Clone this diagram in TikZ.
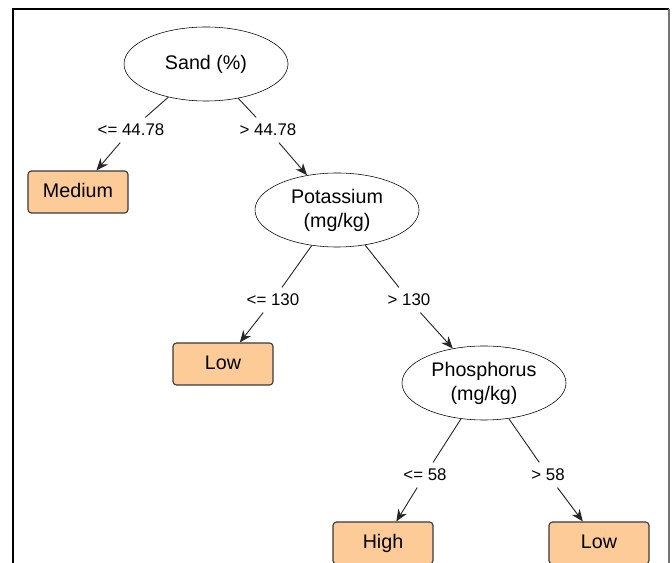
\documentclass[tikz,border=0pt]{standalone}
\usepackage{fontspec}
\setmainfont{Liberation Sans}
\usetikzlibrary{shapes.geometric,arrows.meta}

\definecolor{leaffill}{HTML}{FDCB98}
\definecolor{leafdraw}{HTML}{3A3A3A}

\begin{document}
\begin{tikzpicture}[x=0.025cm, y=-0.025cm,
    split/.style={ellipse, draw=black, thin, fill=white,
        minimum width=4.1cm, minimum height=1.85cm, inner sep=0pt,
        align=center, font=\fontsize{14}{17}\selectfont},
    leaf/.style={rectangle, rounded corners=2.5pt, draw=leafdraw, thick,
        fill=leaffill, minimum width=2.5cm, minimum height=1.05cm,
        text height=0.72em, text depth=0pt,
        font=\fontsize{14}{16}\selectfont},
    cond/.style={inner sep=4.5pt, font=\fontsize{12}{14}\selectfont},
    edge/.style={draw=black!85, line width=0.65pt},
    arrow/.style={edge, -{Stealth[length=8.5pt, width=7pt]}}
]
    \useasboundingbox (0,0) rectangle (672,563);
    % frame
    \draw[line width=0.9pt] (13,570) -- (13,9) -- (669,9);
    \draw[black!55, line width=1.5pt] (669,9) -- (669,570);

    \node[split] (sand) at (206,64) {Sand (\%)};
    \node[split] (potassium) at (337,210) {Potassium\\(mg/kg)};
    \node[split] (phosphorus) at (484,383) {Phosphorus\\(mg/kg)};

    \node[leaf] (medium) at (78,192) {Medium};
    \node[leaf] (lowA) at (223,364) {Low};
    \node[leaf] (high) at (383,543) {High};
    \node[leaf] (lowB) at (599,543) {Low};

    \node[cond] (sandL) at (131,130) {<= 44.78};
    \node[cond] (sandR) at (268,130) {> 44.78};
    \node[cond] (potL) at (273,300) {<= 130};
    \node[cond] (potR) at (409,300) {> 130};
    \node[cond] (phosL) at (425,475) {<= 58};
    \node[cond] (phosR) at (548,475) {> 58};

    \draw[edge] (sand) -- (sandL);
    \draw[arrow] (sandL) -- (medium);
    \draw[edge] (sand) -- (sandR);
    \draw[arrow] (sandR) -- (potassium);
    \draw[edge] (potassium) -- (potL);
    \draw[arrow] (potL) -- (lowA);
    \draw[edge] (potassium) -- (potR);
    \draw[arrow] (potR) -- (phosphorus);
    \draw[edge] (phosphorus) -- (phosL);
    \draw[arrow] (phosL) -- (high);
    \draw[edge] (phosphorus) -- (phosR);
    \draw[arrow] (phosR) -- (lowB);
\end{tikzpicture}
\end{document}
